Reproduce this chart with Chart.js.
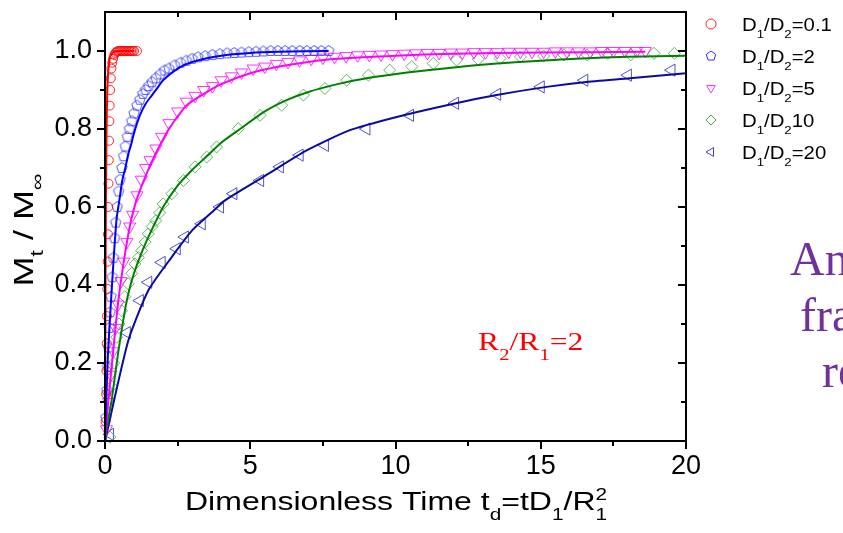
<!DOCTYPE html>
<html>
<head>
<meta charset="utf-8">
<script src="https://cdn.jsdelivr.net/npm/chart.js@4.4.1/dist/chart.umd.min.js"></script>
<style>
  html, body { margin: 0; padding: 0; background: #fff; }
</style>
</head>
<body>
<canvas id="plot" width="843" height="533"></canvas>
<script>
const mkT01 = [0.02, 0.04, 0.05, 0.06, 0.07, 0.08, 0.09, 0.1, 0.11, 0.12, 0.13, 0.14, 0.15, 0.16, 0.18, 0.2, 0.22, 0.25, 0.28, 0.32, 0.36, 0.4, 0.45, 0.5, 0.55, 0.6, 0.65, 0.7, 0.75, 0.8, 0.85, 0.9, 0.95, 1.0, 1.1];
const mkM01 = [0.05, 0.12, 0.18, 0.25, 0.32, 0.39, 0.46, 0.53, 0.6, 0.66, 0.72, 0.77, 0.82, 0.86, 0.9, 0.93, 0.955, 0.97, 0.98, 0.99, 0.995, 0.998, 1.0, 1.0, 1.0, 1.0, 1.0, 1.0, 1.0, 1.0, 1.0, 1.0, 1.0, 1.0, 1.0];
const fitT01 = [0, 0.01, 0.02, 0.03, 0.05, 0.07, 0.09, 0.12, 0.16, 0.2, 0.3, 0.45, 0.6, 0.8, 1.0];
const fitM01 = [0, 0.25, 0.45, 0.6, 0.78, 0.87, 0.92, 0.955, 0.98, 0.99, 0.997, 1.0, 1.0, 1.0, 1.0];

const mkT2 = [0.03, 0.06, 0.09, 0.12, 0.15, 0.18, 0.21, 0.25, 0.29, 0.33, 0.37, 0.42, 0.47, 0.52, 0.58, 0.64, 0.7, 0.77, 0.84, 0.92, 1.0, 1.1, 1.2, 1.3, 1.4, 1.5, 1.62, 1.75, 1.9, 2.05, 2.2, 2.4, 2.6, 2.8, 3.0, 3.2, 3.45, 3.7, 3.95, 4.2, 4.45, 4.7, 4.95, 5.2, 5.45, 5.7, 5.95, 6.2, 6.45, 6.7, 6.95, 7.2, 7.45, 7.7];
const mkM2 = [0.06, 0.13, 0.19, 0.24, 0.29, 0.33, 0.37, 0.42, 0.47, 0.52, 0.56, 0.6, 0.64, 0.67, 0.7, 0.73, 0.755, 0.78, 0.8, 0.82, 0.84, 0.86, 0.875, 0.89, 0.9, 0.91, 0.92, 0.93, 0.94, 0.95, 0.955, 0.963, 0.97, 0.975, 0.98, 0.984, 0.987, 0.99, 0.992, 0.994, 0.995, 0.996, 0.997, 0.998, 0.999, 1.0, 1.0, 1.0, 1.0, 1.0, 1.0, 1.0, 1.0, 1.0];
const fitT2 = [0, 0.05, 0.1, 0.2, 0.3, 0.4, 0.5, 0.6, 0.7, 0.8, 0.9, 1.0, 1.2, 1.4, 1.6, 1.8, 2.0, 2.5, 3.0, 4.0, 5.0, 6.0, 7.7];
const fitM2 = [0, 0.12, 0.22, 0.35, 0.47, 0.57, 0.62, 0.67, 0.7, 0.735, 0.76, 0.79, 0.835, 0.865, 0.885, 0.905, 0.925, 0.955, 0.972, 0.988, 0.995, 0.998, 1.0];

const mkT5 = [0.05, 0.12, 0.2, 0.28, 0.36, 0.45, 0.55, 0.65, 0.75, 0.85, 0.95, 1.1, 1.25, 1.4, 1.55, 1.75, 1.95, 2.2, 2.5, 2.8, 3.1, 3.4, 3.7, 4.0, 4.35, 4.7, 5.1, 5.5, 5.9, 6.3, 6.7, 7.1, 7.5, 7.9, 8.3, 8.7, 9.1, 9.5, 9.9, 10.3, 10.7, 11.1, 11.5, 11.9, 12.3, 12.7, 13.1, 13.5, 13.9, 14.3, 14.7, 15.1, 15.5, 15.9, 16.3, 16.7, 17.1, 17.5, 17.9, 18.3, 18.6];
const mkM5 = [0.03, 0.1, 0.17, 0.23, 0.29, 0.35, 0.41, 0.46, 0.51, 0.55, 0.58, 0.63, 0.67, 0.7, 0.72, 0.75, 0.78, 0.815, 0.845, 0.87, 0.885, 0.9, 0.91, 0.925, 0.935, 0.945, 0.955, 0.96, 0.967, 0.972, 0.976, 0.98, 0.983, 0.985, 0.987, 0.989, 0.99, 0.991, 0.992, 0.993, 0.994, 0.995, 0.995, 0.996, 0.996, 0.997, 0.997, 0.997, 0.998, 0.998, 0.998, 0.998, 0.999, 0.999, 0.999, 0.999, 1.0, 1.0, 1.0, 1.0, 1.0];
const fitT5 = [0, 0.1, 0.23, 0.46, 0.8, 1.05, 1.4, 1.7, 2.2, 2.8, 3.4, 4.0, 5.0, 6.0, 7.0, 8.0, 10.0, 12.0, 15.0, 18.6];
const fitM5 = [0, 0.09, 0.19, 0.36, 0.53, 0.61, 0.68, 0.73, 0.8, 0.86, 0.89, 0.915, 0.943, 0.96, 0.972, 0.98, 0.988, 0.993, 0.996, 0.998];

const mkT10 = [0.17, 0.23, 0.3, 0.4, 0.48, 0.57, 0.68, 0.8, 0.92, 1.03, 1.15, 1.26, 1.38, 1.49, 1.62, 1.75, 1.88, 2.0, 2.3, 2.7, 3.1, 3.5, 3.84, 4.59, 5.34, 6.08, 6.83, 7.57, 8.32, 9.07, 9.8, 10.56, 11.3, 12.1, 12.85, 13.6, 14.3, 15.1, 15.8, 16.6, 17.3, 18.1, 18.9, 19.6];
const mkM10 = [0.01, 0.14, 0.2, 0.266, 0.3, 0.334, 0.37, 0.403, 0.43, 0.454, 0.47, 0.488, 0.51, 0.531, 0.55, 0.565, 0.585, 0.608, 0.634, 0.668, 0.703, 0.728, 0.754, 0.801, 0.835, 0.861, 0.887, 0.904, 0.925, 0.938, 0.951, 0.96, 0.968, 0.977, 0.979, 0.981, 0.985, 0.987, 0.99, 0.99, 0.994, 0.99, 0.994, 0.994];
const fitT10 = [0, 0.1, 0.23, 0.46, 0.75, 1.0, 1.3, 1.6, 2.0, 2.5, 3.0, 3.5, 4.0, 4.65, 5.5, 6.25, 7.0, 8.0, 9.0, 10.4, 12.0, 13.5, 15.0, 16.4, 18.0, 20.0];
const fitM10 = [0, 0.05, 0.105, 0.23, 0.36, 0.43, 0.49, 0.54, 0.6, 0.655, 0.695, 0.73, 0.765, 0.8, 0.845, 0.874, 0.895, 0.915, 0.93, 0.945, 0.958, 0.968, 0.975, 0.981, 0.985, 0.988];

const mkT20 = [0.17, 0.75, 1.2, 1.49, 1.95, 2.47, 2.75, 3.33, 3.96, 4.42, 5.34, 6.02, 6.7, 7.57, 9.0, 10.5, 12.05, 13.5, 15.0, 16.5, 18.0, 19.5];
const mkM20 = [0.017, 0.278, 0.36, 0.407, 0.458, 0.493, 0.523, 0.557, 0.6, 0.634, 0.668, 0.703, 0.733, 0.758, 0.8, 0.835, 0.866, 0.889, 0.908, 0.925, 0.938, 0.951];
const fitT20 = [0, 0.8, 1.49, 2.29, 3.0, 3.73, 4.13, 5.45, 6.94, 8.43, 10.04, 12.0, 13.48, 15.2, 16.5, 18.07, 20.0];
const fitM20 = [0, 0.257, 0.386, 0.471, 0.54, 0.59, 0.617, 0.677, 0.745, 0.797, 0.831, 0.865, 0.887, 0.908, 0.92, 0.93, 0.943];

const xMajor = [0, 5, 10, 15, 20];
const xMinor = [2.5, 7.5, 12.5, 17.5];
const yMajor = [0, 0.2, 0.4, 0.6, 0.8, 1.0];
const yMinor = [0.1, 0.3, 0.5, 0.7, 0.9];

const legendRows = [
  { label: [['D', 'n'], ['1', 'sub'], ['/D', 'n'], ['2', 'sub'], ['=0.1', 'n']], shape: 'circle', color: '#ff3030' },
  { label: [['D', 'n'], ['1', 'sub'], ['/D', 'n'], ['2', 'sub'], ['=2', 'n']], shape: 'pentagon', color: '#3030ff' },
  { label: [['D', 'n'], ['1', 'sub'], ['/D', 'n'], ['2', 'sub'], ['=5', 'n']], shape: 'triDown', color: '#ff30ff' },
  { label: [['D', 'n'], ['1', 'sub'], ['/D', 'n'], ['2', 'sub'], ['10', 'n']], shape: 'diamond', color: '#50a850' },
  { label: [['D', 'n'], ['1', 'sub'], ['/D', 'n'], ['2', 'sub'], ['=20', 'n']], shape: 'triLeft', color: '#4040c0' }
];

const SANS = '"Liberation Sans", Arial, sans-serif';
const SERIF = '"Liberation Serif", "Times New Roman", serif';

const pts = (ts, ms) => ts.map((t, i) => ({ x: t, y: ms[i] }));

function pentagonImage(r, color) {
  const c = document.createElement('canvas');
  c.width = c.height = Math.ceil(2 * r + 3);
  const g = c.getContext('2d');
  const cx = c.width / 2, cy = c.height / 2;
  g.beginPath();
  for (let k = 0; k < 5; k++) {
    const a = -Math.PI / 2 + k * 2 * Math.PI / 5;
    const px = cx + r * Math.cos(a), py = cy + r * Math.sin(a);
    k ? g.lineTo(px, py) : g.moveTo(px, py);
  }
  g.closePath();
  g.strokeStyle = color;
  g.lineWidth = 1;
  g.stroke();
  return c;
}

function drawShape(ctx, shape, x, y, r, color) {
  ctx.save();
  ctx.strokeStyle = color;
  ctx.lineWidth = 1;
  ctx.beginPath();
  if (shape === 'circle') {
    ctx.arc(x, y, r, 0, 2 * Math.PI);
  } else if (shape === 'pentagon') {
    for (let k = 0; k < 5; k++) {
      const a = -Math.PI / 2 + k * 2 * Math.PI / 5;
      k ? ctx.lineTo(x + r * Math.cos(a), y + r * Math.sin(a)) : ctx.moveTo(x + r * Math.cos(a), y + r * Math.sin(a));
    }
    ctx.closePath();
  } else if (shape === 'triDown') {
    ctx.moveTo(x - r * 0.87, y - r * 0.5);
    ctx.lineTo(x + r * 0.87, y - r * 0.5);
    ctx.lineTo(x, y + r);
    ctx.closePath();
  } else if (shape === 'triLeft') {
    ctx.moveTo(x - r, y);
    ctx.lineTo(x + r * 0.5, y - r * 0.87);
    ctx.lineTo(x + r * 0.5, y + r * 0.87);
    ctx.closePath();
  } else if (shape === 'diamond') {
    ctx.moveTo(x, y - r); ctx.lineTo(x + r, y); ctx.lineTo(x, y + r); ctx.lineTo(x - r, y);
    ctx.closePath();
  }
  ctx.stroke();
  ctx.restore();
}

// text with subscripts, stretched by sx along the text direction;
// a 'sup' right after a 'sub' is stacked above it
function richText(ctx, parts, x, y, size, family, color, draw, sx) {
  sx = sx || 1;
  let cx = 0, subStart = 0;
  ctx.save();
  ctx.translate(x, y);
  ctx.scale(sx, 1);
  ctx.fillStyle = color;
  ctx.textAlign = 'left';
  ctx.textBaseline = 'alphabetic';
  for (const [txt, kind] of parts) {
    let fs = size, dy = 0;
    if (kind === 'sub') { fs = size * 0.65; dy = size * 0.38; subStart = cx; }
    if (kind === 'sup') { fs = size * 0.65; dy = -size * 0.42; cx = subStart; }
    ctx.font = fs + 'px ' + family;
    if (draw) ctx.fillText(txt, cx, dy);
    cx += ctx.measureText(txt).width;
  }
  ctx.restore();
  return cx * sx;
}

const decorations = {
  id: 'decorations',
  afterDraw(chart) {
    const { ctx, chartArea: a, scales: { x, y } } = chart;
    ctx.save();
    // frame
    ctx.strokeStyle = '#000';
    ctx.lineWidth = 2;
    ctx.strokeRect(a.left, a.top, a.right - a.left, a.bottom - a.top);
    // ticks: outward on left/bottom, inward on right/top
    ctx.beginPath();
    const tx = (v, len) => {
      const px = Math.round(x.getPixelForValue(v));
      ctx.moveTo(px, a.bottom); ctx.lineTo(px, a.bottom + len);
      ctx.moveTo(px, a.top); ctx.lineTo(px, a.top + len);
    };
    const ty = (v, len) => {
      const py = Math.round(y.getPixelForValue(v));
      ctx.moveTo(a.left, py); ctx.lineTo(a.left - len, py);
      ctx.moveTo(a.right, py); ctx.lineTo(a.right - len, py);
    };
    xMajor.forEach(v => tx(v, 8));
    xMinor.forEach(v => tx(v, 5));
    yMajor.forEach(v => ty(v, 8));
    yMinor.forEach(v => ty(v, 5));
    ctx.stroke();

    // x axis title
    const xTitle = [['Dimensionless Time t', 'n'], ['d', 'sub'], ['=tD', 'n'], ['1', 'sub'], ['/R', 'n'], ['1', 'sub'], ['2', 'sup']];
    richText(ctx, xTitle, 185, 510, 25, SANS, '#000', true, 1.28);

    // y axis title (rotated)
    const yTitle = [['M', 'n'], ['t', 'sub'], [' / M', 'n'], ['\u221e', 'sub']];
    ctx.save();
    ctx.translate(33, 230);
    ctx.rotate(-Math.PI / 2);
    const w = richText(ctx, yTitle, 0, 0, 27, SANS, '#000', false, 1.33);
    richText(ctx, yTitle, -w / 2, 0, 27, SANS, '#000', true, 1.33);
    ctx.restore();

    // legend
    legendRows.forEach((row, i) => {
      const cy = 24 + i * 32;
      drawShape(ctx, row.shape, 711, cy, 5, row.color);
      richText(ctx, row.label, 742, cy + 7, 18, SANS, '#000', true, 1.13);
    });

    // annotation inside the plot
    richText(ctx, [['R', 'n'], ['2', 'sub'], ['/R', 'n'], ['1', 'sub'], ['=2', 'n']], 478, 350, 26, SERIF, '#ff0000', true, 1.22);

    // cut-off slide text on the right
    ctx.fillStyle = '#7030a0';
    ctx.font = '48px ' + SERIF;
    ctx.textAlign = 'left';
    ctx.fillText('An', 790, 275);
    ctx.fillText('fra', 800, 331);
    ctx.fillText('re', 822, 387);
    ctx.restore();
  }
};

const markerSet = (ts, ms, color, style, radius, rotation) => ({
  data: pts(ts, ms),
  showLine: false,
  pointStyle: style,
  pointRadius: radius,
  pointRotation: rotation || 0,
  pointBorderColor: color,
  pointBackgroundColor: 'transparent',
  pointBorderWidth: 1,
  clip: false,
  order: 2
});

const fitSet = (ts, ms, color) => ({
  data: pts(ts, ms),
  showLine: true,
  borderColor: color,
  borderWidth: 2,
  pointRadius: 0,
  tension: 0.2,
  fill: false,
  order: 1
});

new Chart(document.getElementById('plot'), {
  type: 'scatter',
  data: {
    datasets: [
      fitSet(fitT01, fitM01, '#ff0000'),
      fitSet(fitT2, fitM2, '#0000ff'),
      fitSet(fitT5, fitM5, '#ff00ff'),
      fitSet(fitT10, fitM10, '#008000'),
      fitSet(fitT20, fitM20, '#0a0aa0'),
      markerSet(mkT01, mkM01, 'rgba(255,0,0,0.85)', 'circle', 4.5),
      markerSet(mkT2, mkM2, 'rgba(40,40,255,0.8)', pentagonImage(5.5, 'rgba(40,40,255,0.8)'), 5.5),
      markerSet(mkT5, mkM5, 'rgba(255,0,255,0.8)', 'triangle', 7, 180),
      markerSet(mkT10, mkM10, 'rgba(40,150,40,0.7)', 'rectRot', 6),
      markerSet(mkT20, mkM20, 'rgba(40,40,190,0.8)', 'triangle', 7, 270)
    ]
  },
  options: {
    responsive: false,
    animation: false,
    events: [],
    layout: { padding: { left: 0, top: 12, right: 157, bottom: 0 } },
    plugins: { legend: { display: false }, tooltip: { enabled: false } },
    scales: {
      x: {
        type: 'linear',
        min: 0,
        max: 20,
        grid: { display: false, drawTicks: false },
        border: { display: false },
        ticks: { stepSize: 5, padding: 9, color: '#000', font: { family: SANS, size: 27 }, maxRotation: 0 },
        afterFit: s => { s.height = 92; s.paddingLeft = 0; s.paddingRight = 0; }
      },
      y: {
        type: 'linear',
        min: 0,
        max: 1.1,
        grid: { display: false, drawTicks: false },
        border: { display: false },
        ticks: {
          stepSize: 0.2,
          includeBounds: false,
          padding: 13,
          color: '#000',
          font: { family: SANS, size: 27 },
          callback: v => v.toFixed(1)
        },
        afterFit: s => { s.width = 105; s.paddingTop = 0; s.paddingBottom = 0; }
      }
    }
  },
  plugins: [decorations]
});
</script>
</body>
</html>
